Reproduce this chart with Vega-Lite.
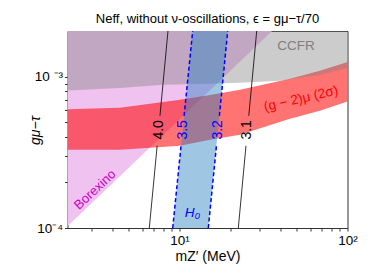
{
  "$schema": "https://vega.github.io/schema/vega-lite/v6.json",
  "width": 280,
  "height": 197,
  "autosize": {"type": "none"},
  "padding": {"left": 67.5, "top": 31, "right": 26.5, "bottom": 52},
  "title": {"text": "Neff, without ν-oscillations, ϵ = gμ−τ/70", "fontSize": 13, "fontWeight": "normal", "font": "Liberation Sans", "anchor": "middle", "frame": "group", "offset": 5, "color": "#000"},
  "config": {"view": {"stroke": "#333", "strokeWidth": 1}, "font": "Liberation Sans"},
  "datasets": {
    "pink": [{"x": 2.154, "y": 0.0001028, "y2": 0.002}, {"x": 35.53, "y": 0.002, "y2": 0.002}],
    "gm2": [
      {"x": 2.154, "y": 0.000329, "y2": 0.000608},
      {"x": 4.42, "y": 0.000329, "y2": 0.000622},
      {"x": 10.07, "y": 0.000349, "y2": 0.000702},
      {"x": 15.19, "y": 0.000383, "y2": 0.000757},
      {"x": 22.9, "y": 0.000413, "y2": 0.000817},
      {"x": 45.5, "y": 0.000526, "y2": 0.000966},
      {"x": 68.5, "y": 0.000594, "y2": 0.001091},
      {"x": 100, "y": 0.000684, "y2": 0.00125}
    ],
    "ccfr": [
      {"x": 2.154, "y": 0.000809, "y2": 0.002},
      {"x": 4.42, "y": 0.000842, "y2": 0.002},
      {"x": 7.98, "y": 0.000882, "y2": 0.002},
      {"x": 13.24, "y": 0.000895, "y2": 0.002},
      {"x": 22.9, "y": 0.000909, "y2": 0.002},
      {"x": 39.6, "y": 0.000937, "y2": 0.002},
      {"x": 68.5, "y": 0.001026, "y2": 0.002},
      {"x": 100, "y": 0.001141, "y2": 0.002}
    ],
    "h0": [{"y": 0.0001, "x": 9.11, "x2": 14.84}, {"y": 0.002, "x": 11.98, "x2": 19.36}],
    "blacklines": [
      {"seg": "a", "x": 8.54, "y": 0.002}, {"seg": "a", "x": 7.65, "y": 0.0005504},
      {"seg": "b", "x": 7.36, "y": 0.000349}, {"seg": "b", "x": 6.61, "y": 0.0001},
      {"seg": "c", "x": 28.81, "y": 0.002}, {"seg": "c", "x": 25.84, "y": 0.0005504},
      {"seg": "d", "x": 24.87, "y": 0.000349}, {"seg": "d", "x": 22.39, "y": 0.0001}
    ],
    "bluelines": [
      {"seg": "e", "x": 11.98, "y": 0.002}, {"seg": "e", "x": 10.65, "y": 0.0005504},
      {"seg": "f", "x": 10.21, "y": 0.000349}, {"seg": "f", "x": 9.11, "y": 0.0001},
      {"seg": "g", "x": 19.36, "y": 0.002}, {"seg": "g", "x": 17.27, "y": 0.0005504},
      {"seg": "h", "x": 16.59, "y": 0.000349}, {"seg": "h", "x": 14.84, "y": 0.0001}
    ],
    "labels": [
      {"kind": "blackc", "text": "4.0", "x": 7.51, "y": 0.000445},
      {"kind": "blackc", "text": "3.1", "x": 25.39, "y": 0.000445},
      {"kind": "bluec", "text": "3.5", "x": 10.44, "y": 0.000445},
      {"kind": "bluec", "text": "3.2", "x": 16.94, "y": 0.000445},
      {"kind": "borex", "text": "Borexino", "x": 3.14, "y": 0.0001789},
      {"kind": "ccfr", "text": "CCFR", "x": 49.4, "y": 0.001594},
      {"kind": "gm2", "text": "(g − 2)μ (2σ)", "x": 52.9, "y": 0.000713},
      {"kind": "h0", "text": "H₀", "x": 11.95, "y": 0.0001262}
    ]
  },
  "encoding": {
    "x": {
      "field": "x", "type": "quantitative",
      "scale": {"type": "log", "domain": [2.154, 100], "nice": false},
      "axis": {
        "title": "mZ′ (MeV)",
        "values": [3, 4, 5, 6, 7, 8, 9, 10, 20, 30, 40, 50, 60, 70, 80, 90, 100],
        "labelExpr": "datum.value == 10 ? '10¹' : datum.value == 100 ? '10²' : ''",
        "domain": false, "grid": false, "tickSize": 3, "tickColor": "#333",
        "labelFontSize": 13.5, "labelColor": "#000", "labelPadding": 2, "labelOverlap": false, "labelFlush": false, "labelBound": false,
        "titleFontSize": 14, "titleFontWeight": "normal", "titleColor": "#000", "titlePadding": 3
      }
    },
    "y": {
      "field": "y", "type": "quantitative",
      "scale": {"type": "log", "domain": [0.0001, 0.002], "nice": false},
      "axis": {
        "title": "gμ−τ",
        "values": [0.0001, 0.0002, 0.0003, 0.0004, 0.0005, 0.0006, 0.0007, 0.0008, 0.0009, 0.001],
        "labelExpr": "datum.value == 0.001 ? '10 ⁻³' : datum.value == 0.0001 ? '10⁻⁴' : ''",
        "domain": false, "grid": false, "tickSize": 3, "tickColor": "#333",
        "labelFontSize": 13.5, "labelColor": "#000", "labelPadding": 2, "labelOverlap": false, "labelFlush": false, "labelBound": false,
        "titleFontSize": 14, "titleFontWeight": "normal", "titleFontStyle": "italic", "titleColor": "#000",
        "titleAngle": 270, "titleAlign": "center", "titleBaseline": "middle", "titleX": -32, "titleY": 99
      }
    }
  },
  "layer": [
    {"data": {"name": "pink"}, "mark": {"type": "area", "color": "#efc2ef", "opacity": 1, "clip": true}, "encoding": {"y2": {"field": "y2"}}},
    {"data": {"name": "gm2"}, "mark": {"type": "area", "color": "#ff0000", "opacity": 0.55, "clip": true}, "encoding": {"y2": {"field": "y2"}}},
    {"data": {"name": "ccfr"}, "mark": {"type": "area", "color": "#808080", "opacity": 0.4, "clip": true}, "encoding": {"y2": {"field": "y2"}}},
    {"data": {"name": "h0"}, "mark": {"type": "area", "orient": "horizontal", "color": "#2a82c4", "opacity": 0.45, "clip": true}, "encoding": {"x2": {"field": "x2"}}},
    {"data": {"name": "blacklines"}, "mark": {"type": "line", "color": "#000", "strokeWidth": 0.8, "clip": true}, "encoding": {"detail": {"field": "seg"}}},
    {"data": {"name": "bluelines"}, "mark": {"type": "line", "color": "#0000ff", "strokeWidth": 1.5, "strokeDash": [4, 2.5], "clip": true}, "encoding": {"detail": {"field": "seg"}}},
    {"data": {"name": "labels"}, "transform": [{"filter": "datum.kind == 'blackc'"}], "mark": {"type": "text", "angle": 270, "fontSize": 14, "color": "#000", "align": "center", "baseline": "middle"}, "encoding": {"text": {"field": "text"}}},
    {"data": {"name": "labels"}, "transform": [{"filter": "datum.kind == 'bluec'"}], "mark": {"type": "text", "angle": 270, "fontSize": 14, "color": "#0000ff", "align": "center", "baseline": "middle"}, "encoding": {"text": {"field": "text"}}},
    {"data": {"name": "labels"}, "transform": [{"filter": "datum.kind == 'borex'"}], "mark": {"type": "text", "angle": 317, "fontSize": 13, "color": "#cc00cc", "align": "center", "baseline": "middle"}, "encoding": {"text": {"field": "text"}}},
    {"data": {"name": "labels"}, "transform": [{"filter": "datum.kind == 'ccfr'"}], "mark": {"type": "text", "fontSize": 13.5, "color": "#7f7f7f", "align": "center", "baseline": "middle"}, "encoding": {"text": {"field": "text"}}},
    {"data": {"name": "labels"}, "transform": [{"filter": "datum.kind == 'gm2'"}], "mark": {"type": "text", "angle": 347, "fontSize": 13.5, "color": "#ff0000", "align": "center", "baseline": "middle"}, "encoding": {"text": {"field": "text"}}},
    {"data": {"name": "labels"}, "transform": [{"filter": "datum.kind == 'h0'"}], "mark": {"type": "text", "fontSize": 13.5, "fontStyle": "italic", "color": "#0000ff", "align": "center", "baseline": "middle"}, "encoding": {"text": {"field": "text"}}}
  ]
}
